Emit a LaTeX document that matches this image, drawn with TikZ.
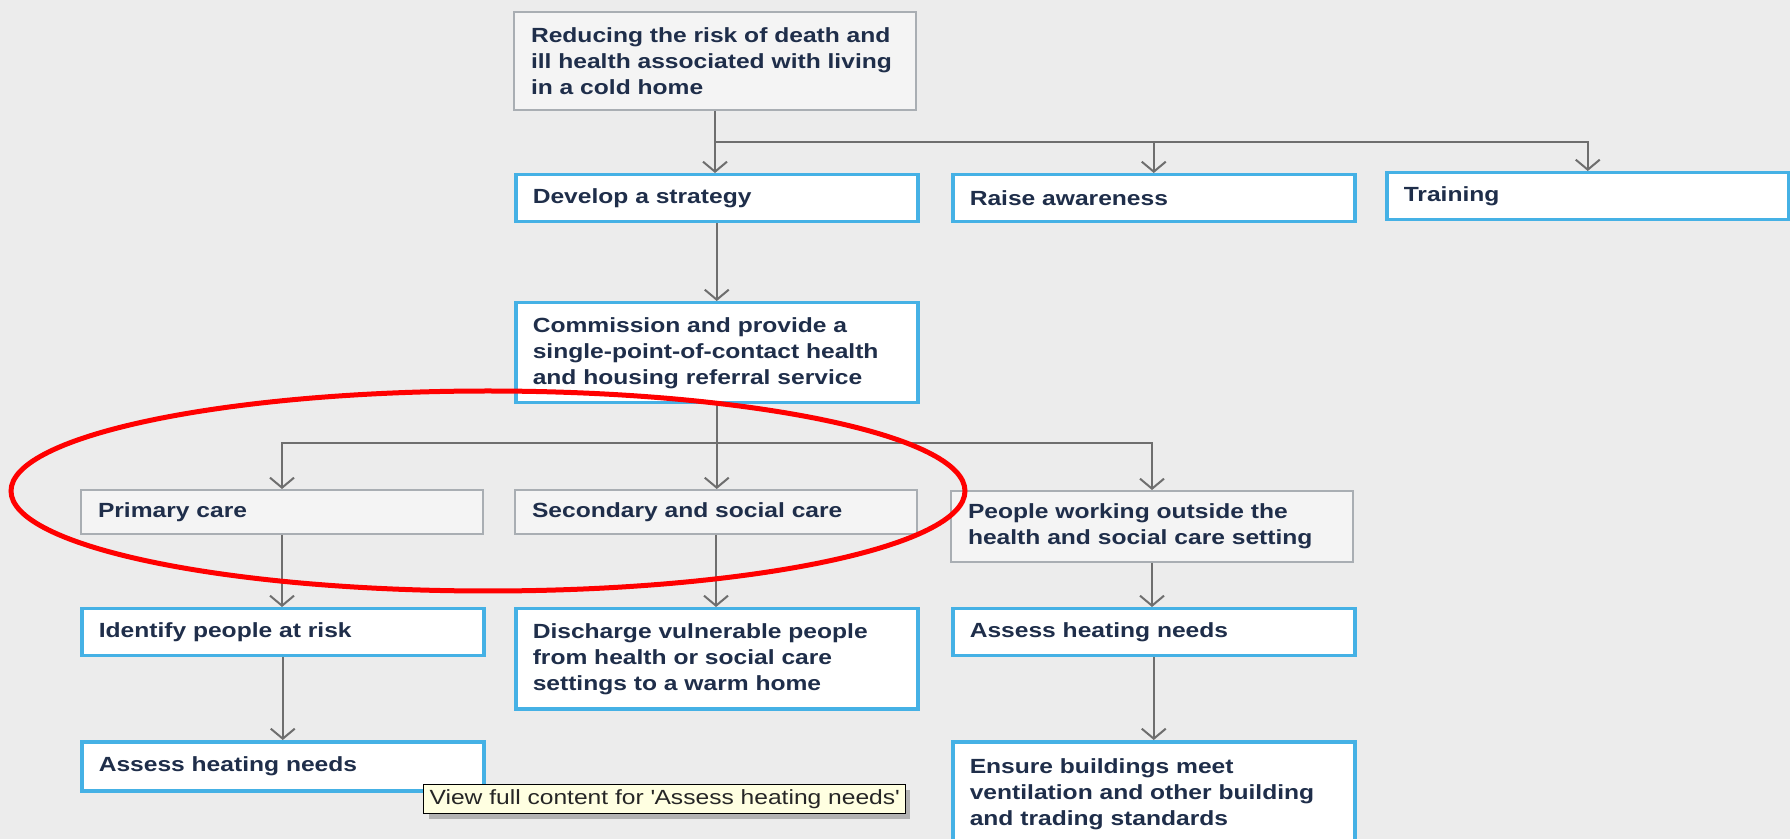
\documentclass[tikz,border=0pt]{standalone}
\usepackage{fontspec}
\setmainfont{Liberation Sans}[FakeStretch=1.2]
\usetikzlibrary{arrows.meta,calc,shadows}

\definecolor{pagebg}{HTML}{ECECEC}
\definecolor{boxblue}{HTML}{45B1E5}
\definecolor{boxgrey}{HTML}{A9AEB3}
\definecolor{boxgreyfill}{HTML}{F4F4F4}
\definecolor{boxtext}{HTML}{1F2E4A}
\definecolor{linkgrey}{HTML}{6E6E6E}
\definecolor{tipfill}{HTML}{FFFFE1}

\tikzstyle{box}=[rectangle, anchor=north west, align=left, minimum width=201pt,
  text width=184pt, inner xsep=8.5pt, inner ysep=0pt,
  font=\fontsize{10.25}{13}\selectfont\bfseries, text=boxtext]
\tikzstyle{blue-box}=[box, draw=boxblue, line width=1.75pt, fill=white]
\tikzstyle{grey-box}=[box, draw=boxgrey, line width=1pt, fill=boxgreyfill]
\tikzstyle{link}=[draw=linkgrey, line width=1pt, -{Straight Barb[length=5pt,width=12pt]}]

\begin{document}
\begin{tikzpicture}[x=0.5pt, y=-0.5pt]
  \fill[pagebg] (0,0) rectangle (1790,839);
  \useasboundingbox (0,0) rectangle (1790,839);
  \clip (0,0) rectangle (1790,839);

  % top of the tree
  \node (goal) at (513, 11) [grey-box, minimum height=49pt]
        {Reducing the risk of death and\\ill health associated with living\\in a cold home};
  \node (strategy) at (514, 173) [blue-box, minimum height=23.5pt] {Develop a strategy};
  \node (awareness) at (951, 173) [blue-box, minimum height=23.5pt] {Raise awareness};
  \node (training) at (1385, 171) [blue-box, minimum height=23.5pt] {Training};
  \node (referral) at (514, 301) [blue-box, minimum height=50pt]
        {Commission and provide a\\single-point-of-contact health\\and housing referral service};

  % care settings
  \node (primary) at (80, 489) [grey-box, minimum height=22pt] {Primary care};
  \node (secondary) at (514, 489) [grey-box, minimum height=22pt] {Secondary and social care};
  \node (outside) at (950, 490) [grey-box, minimum height=35.5pt]
        {People working outside the\\health and social care setting};

  % actions
  \node (identify) at (80, 607) [blue-box, minimum height=23.5pt] {Identify people at risk};
  \node (discharge) at (514, 607) [blue-box, minimum height=50pt]
        {Discharge vulnerable people\\from health or social care\\settings to a warm home};
  \node (assess-r) at (951, 607) [blue-box, minimum height=23.5pt] {Assess heating needs};
  \node (assess-l) at (80, 740) [blue-box, minimum height=24.5pt] {Assess heating needs};
  \node (buildings) at (951, 740) [blue-box, minimum height=52pt]
        {Ensure buildings meet\\ventilation and other building\\and trading standards};

  % connectors
  \coordinate (fork1) at ($(goal.south)!0.5!(goal.south |- strategy.north)$);
  \draw[link] (goal.south) -- (goal.south |- strategy.north);
  \draw[link] (fork1) -| (awareness.north);
  \draw[link] (fork1) -| (training.north);
  \draw[link] (strategy.south) -- (strategy.south |- referral.north);

  \coordinate (fork2) at ($(referral.south)!0.45!(referral.south |- secondary.north)$);
  \draw[link] (referral.south) -- (referral.south |- secondary.north);
  \draw[link] (fork2) -| (primary.north);
  \draw[link] (fork2) -| (outside.north);

  \draw[link] (primary.south) -- (primary.south |- identify.north);
  \draw[link] (identify.south) -- (identify.south |- assess-l.north);
  \draw[link] (secondary.south) -- (secondary.south |- discharge.north);
  \draw[link] (outside.south) -- (outside.south |- assess-r.north);
  \draw[link] (assess-r.south) -- (assess-r.south |- buildings.north);

  % highlight round the care settings
  \draw[red, line width=2.5pt] (488, 491) ellipse [x radius=238.5pt, y radius=50pt];

  % hover tip
  \node (tooltip) at (423, 784) [anchor=north west, draw=black, line width=0.6pt, fill=tipfill,
        minimum width=238.5pt, minimum height=14.5pt, inner xsep=3pt, inner ysep=0pt,
        font=\fontsize{10.25}{12}\selectfont, text=black!85,
        drop shadow={shadow xshift=2.5pt, shadow yshift=-2.5pt, fill=black!45, opacity=0.6}]
        {View full content for \textquotesingle Assess heating needs\textquotesingle};
\end{tikzpicture}
\end{document}
